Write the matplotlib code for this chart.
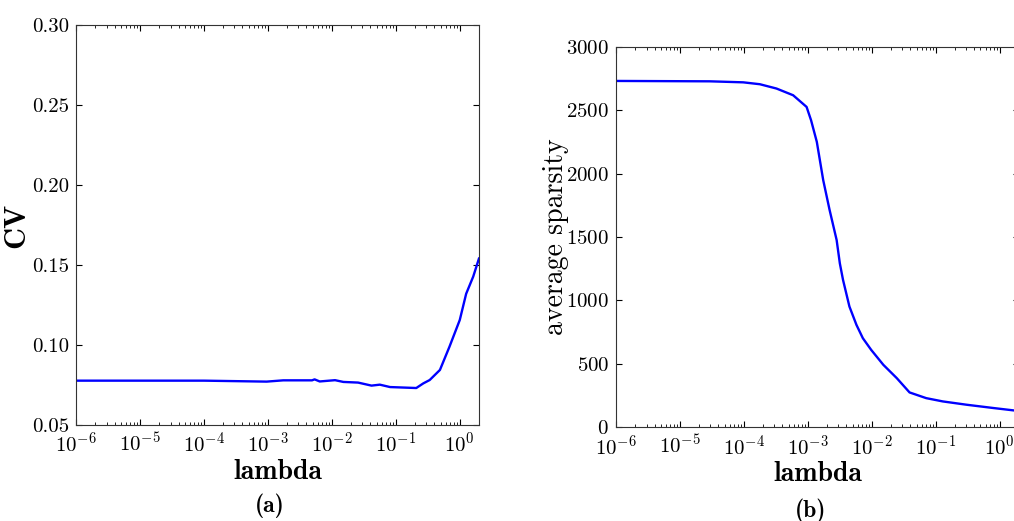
import numpy as np
import matplotlib
matplotlib.use("Agg")
import matplotlib.pyplot as plt

# CV vs lambda, panel (a)
cv_log_lambda = [-6.0, -4.0, -3.02, -2.76, -2.31, -2.27, -2.19, -1.95, -1.82, -1.59,
                 -1.38, -1.25, -1.09, -0.68, -0.57, -0.47, -0.31, -0.16, 0.0, 0.10, 0.21, 0.30]
cv_values = [0.0777, 0.0777, 0.0771, 0.0779, 0.0779, 0.0785, 0.0772, 0.0780, 0.0769, 0.0765,
             0.0746, 0.0752, 0.0737, 0.0731, 0.0760, 0.0781, 0.0844, 0.0990, 0.1156, 0.1320, 0.1427, 0.1540]

# average sparsity vs lambda, panel (b)
sp_log_lambda = [-6.0, -4.53, -4.01, -3.75, -3.49, -3.23, -3.02, -2.95, -2.86, -2.76, -2.66,
                 -2.55, -2.50, -2.45, -2.35, -2.24, -2.14, -2.01, -1.82, -1.61, -1.41, -1.15,
                 -0.89, -0.52, -0.10, 0.22, 0.30]
sp_values = [2732, 2729, 2721, 2706, 2672, 2619, 2527, 2422, 2251, 1949, 1713,
             1476, 1292, 1161, 951, 806, 701, 609, 491, 386, 273, 228,
             202, 176, 150, 131, 127]

plt.rcParams['font.family'] = 'serif'
plt.rcParams['font.serif'] = ['cmr10']
plt.rcParams['mathtext.fontset'] = 'cm'
plt.rcParams['axes.formatter.use_mathtext'] = True
plt.rcParams['axes.unicode_minus'] = False
plt.rcParams['xtick.direction'] = 'in'
plt.rcParams['ytick.direction'] = 'in'
plt.rcParams['xtick.top'] = True
plt.rcParams['ytick.right'] = True
plt.rcParams['xtick.major.size'] = 4
plt.rcParams['ytick.major.size'] = 4
plt.rcParams['xtick.minor.size'] = 2
plt.rcParams['ytick.minor.size'] = 2
plt.rcParams['axes.edgecolor'] = '#333333'

fig = plt.figure(figsize=(10.14, 5.21), dpi=100)
ax1 = fig.add_axes([0.075, 0.1843, 0.3974, 0.7678])
ax2 = fig.add_axes([0.6075, 0.1804, 0.3974, 0.7294])

ax1.plot(10 ** np.array(cv_log_lambda), cv_values, color='blue', lw=1.7)
ax1.set_xscale('log')
ax1.set_xlim(1e-6, 2.0)
ax1.set_ylim(0.05, 0.30)
ax1.set_yticks([0.05, 0.10, 0.15, 0.20, 0.25, 0.30])
ax1.set_yticklabels(['0.05', '0.10', '0.15', '0.20', '0.25', '0.30'])
ax1.set_xlabel('lambda', family='cmb10', fontsize=20, labelpad=2)
ax1.set_ylabel('CV', family='cmb10', fontsize=22)
ax1.yaxis.set_label_coords(-0.114, 0.5)

ax2.plot(10 ** np.array(sp_log_lambda), sp_values, color='blue', lw=1.7)
ax2.set_xscale('log')
ax2.set_xlim(1e-6, 2.0)
ax2.set_ylim(0, 3000)
ax2.set_yticks(range(0, 3001, 500))
ax2.set_xlabel('lambda', family='cmb10', fontsize=20, labelpad=2)
ax2.set_ylabel('average sparsity', fontsize=20)
ax2.yaxis.set_label_coords(-0.117, 0.5)

for ax in (ax1, ax2):
    ax.set_xticks(10.0 ** np.arange(-6, 1))
    ax.tick_params(labelsize=15, pad=5)
    ax.tick_params(which='minor', top=True, bottom=True)

fig.text(0.266, 0.03, '(a)', family='cmb10', fontsize=17, ha='center', va='center')
fig.text(0.799, 0.02, '(b)', family='cmb10', fontsize=17, ha='center', va='center')

fig.savefig('out.png', dpi=100)
